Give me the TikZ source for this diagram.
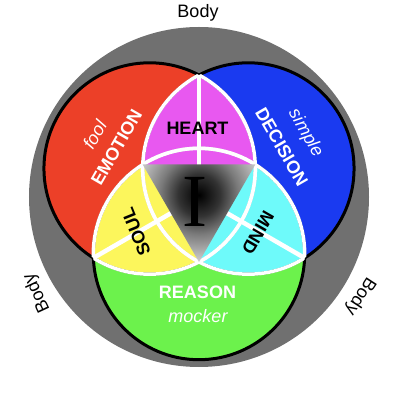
\documentclass[tikz,border=0pt]{standalone}
\usepackage{fontspec}
\setmainfont{Liberation Sans}
\newfontfamily\serifI{Liberation Serif}
\usepackage{tikz}
\usetikzlibrary{positioning}

\definecolor{bodygray}{RGB}{112,112,112}
\definecolor{emored}{RGB}{236,64,40}
\definecolor{decblue}{RGB}{26,58,240}
\definecolor{reagreen}{RGB}{108,242,76}
\definecolor{heartpink}{RGB}{232,88,240}
\definecolor{soulyellow}{RGB}{252,246,92}
\definecolor{mindcyan}{RGB}{110,250,250}

\pgfdeclareradialshading{ishade}{\pgfpoint{0bp}{0bp}}{color(0bp)=(black); color(7bp)=(black!80); color(13bp)=(black!52); color(23bp)=(black!16); color(33bp)=(black!24); color(50bp)=(black!35)}

\def\crad{105.7}

\begin{document}
\begin{tikzpicture}[x=1pt, y=1pt, semithick]
    \tikzstyle{outline}=[draw=black, line width=3pt]
    \tikzstyle{seam}=[draw=white, line width=3.5pt]
    \tikzstyle{spoke}=[draw=white, line width=4.5pt]
    \tikzstyle{big}=[font=\fontsize{18}{25}\selectfont\bfseries, text=white, align=center]
    \tikzstyle{small}=[font=\fontsize{18}{22}\selectfont\itshape, text=white]
    \tikzstyle{inner}=[font=\fontsize{18}{22}\selectfont\bfseries, text=black]
    \tikzstyle{body}=[font=\fontsize{18}{22}\selectfont, text=black]
    \tikzstyle{ego}=[font=\serifI\fontsize{75}{75}\selectfont]

    \useasboundingbox (-199,-209) rectangle (201,197);

    \coordinate (cE) at (150:57);
    \coordinate (cD) at (30:57);
    \coordinate (cR) at (270:57);
    \coordinate (tL) at (150:65);
    \coordinate (tR) at (30:65);
    \coordinate (tB) at (270:65);

    % body
    \fill[bodygray] (0,0) circle (170);

    % three circles
    \fill[emored] (cE) circle (\crad);
    \fill[decblue] (cD) circle (\crad);
    \fill[reagreen] (cR) circle (\crad);

    % overlaps
    \begin{scope}
        \clip (cE) circle (\crad);
        \fill[soulyellow] (cR) circle (\crad);
    \end{scope}
    \begin{scope}
        \clip (cD) circle (\crad);
        \fill[mindcyan] (cR) circle (\crad);
    \end{scope}
    \begin{scope}
        \clip (cE) circle (\crad);
        \fill[heartpink] (cD) circle (\crad);
    \end{scope}
    \begin{scope}
        \clip (cE) circle (\crad);
        \clip (cD) circle (\crad);
        \clip (cR) circle (\crad);
        \fill[soulyellow] (0,0) -- (150:90) -- (210:90) -- (270:90) -- cycle;
        \fill[mindcyan] (0,0) -- (270:90) -- (330:90) -- (30:90) -- cycle;
    \end{scope}

    % borders
    \draw[outline] (cE) circle (\crad);
    \draw[outline] (cD) circle (\crad);
    \draw[outline] (cR) circle (\crad);
    \foreach \a/\b in {cE/cD, cE/cR, cD/cE, cD/cR, cR/cE, cR/cD} {
        \begin{scope}
            \clip (\b) circle (\crad);
            \draw[seam] (\a) circle (\crad);
        \end{scope}
    }
    \foreach \ang in {90,210,330}
        \draw[spoke] (0,0) -- (\ang:122);

    % center
    \begin{scope}
        \clip (tL) -- (tR) -- (tB) -- cycle;
        \shade[shading=ishade] (0,2) circle (75);
    \end{scope}
    \node[ego, text=black] (self) at (-4,-5) {I};

    % labels
    \node[body, anchor=base] (bodyT) at (-1,179) {Body};
    \node[body, rotate=115] (bodyL) at (-162,-96) {Body};
    \node[body, rotate=-123] (bodyR) at (161,-99) {Body};

    \node[big, rotate=60] (emotion) at (-93.5,56) {{\mdseries\itshape fool}\\EMOTION};
    \node[big, rotate=-60] (decision) at (95.5,57.5) {{\mdseries\itshape simple}\\[4pt]DECISION};
    \node[big, anchor=base] (reason) at (-1.5,-101) {REASON};
    \node[small, anchor=base] (mocker) at (-1,-125) {mocker};

    \node[inner, anchor=base] (heart) at (-1.5,62) {HEART};
    \node[inner, rotate=112] (soul) at (-63,-35) {SOUL};
    \node[inner, rotate=-120] (mind) at (59,-36) {MIND};

\end{tikzpicture}
\end{document}
